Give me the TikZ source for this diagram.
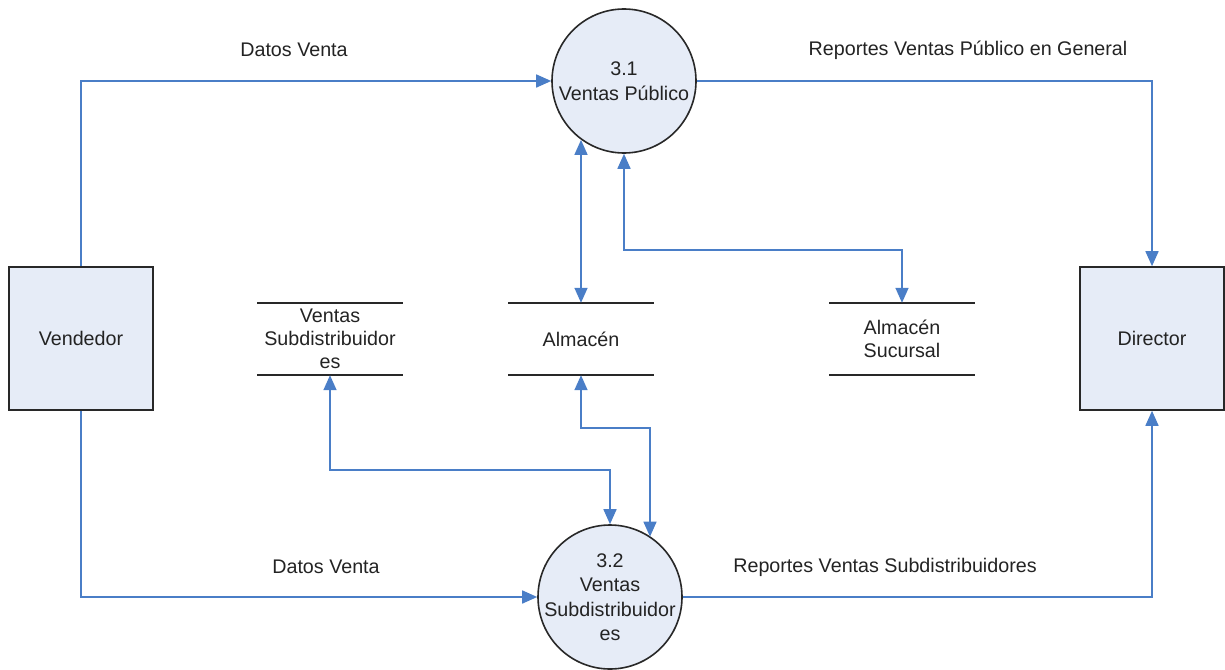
\documentclass[tikz,border=0pt]{standalone}
\usepackage{fontspec}
\setmainfont{Liberation Sans}
\usetikzlibrary{arrows.meta}
\definecolor{flowblue}{RGB}{74,126,199}
\definecolor{boxfill}{RGB}{230,236,247}
\definecolor{edge}{RGB}{40,40,40}
\definecolor{ink}{RGB}{35,35,35}
\begin{document}
\begin{tikzpicture}[x=1pt,y=-1pt,
  every node/.style={font=\fontsize{19.7}{24}\selectfont, text=ink},
  entity/.style={draw=edge, line width=1.6pt, fill=boxfill, minimum width=144pt, minimum height=143pt, inner sep=0pt},
  process/.style={circle, draw=edge, line width=1.6pt, fill=boxfill, minimum size=144pt, inner sep=0pt},
  proctext/.style={align=center, inner sep=0pt, font=\fontsize{19.7}{24.5}\selectfont},
  store/.style={minimum width=145pt, minimum height=72pt, inner sep=0pt, align=center, font=\fontsize{19.7}{23}\selectfont},
  storeline/.style={draw=edge, line width=1.6pt},
  flow/.style={draw=flowblue, line width=1.6pt, -{Triangle[length=15pt,width=13pt]}},
  flowboth/.style={draw=flowblue, line width=1.6pt, {Triangle[length=15pt,width=13pt]}-{Triangle[length=15pt,width=13pt]}},
  lbl/.style={inner sep=0pt}]
\useasboundingbox (0,0) rectangle (1225,669);

% external entities
\node[entity] (vend) at (81,338.5) {Vendedor};
\node[entity] (dir) at (1152,338.5) {Director};

% processes: the circle keeps its size, the text sits on top of it
\node[process] (p1) at (624,81) {};
\node[proctext] (p1t) at (p1) {3.1\\Ventas Público};
\node[process] (p2) at (610,597) {};
\node[proctext] (p2t) at (p2) {3.2\\Ventas\\Subdistribuidor\\es};

% data stores
\node[store] (vsub) at (330,339) {Ventas\\Subdistribuidor\\es};
\node[store] (alm) at (581,339) {Almacén};
\node[store] (suc) at (902,339) {Almacén\\Sucursal};
\foreach \s in {vsub,alm,suc}{
  \draw[storeline] (\s.north west) -- (\s.north east);
  \draw[storeline] (\s.south west) -- (\s.south east);
}

% bend points
\coordinate (j1) at (624,250);
\coordinate (j2) at (610,470);
\coordinate (j3) at (650,428);

% data flows
\draw[flow] (vend.north) |- (p1.west);
\draw[flow] (p1.east) -| (dir.north);
\draw[flow] (vend.south) |- (p2.west);
\draw[flow] (p2.east) -| (dir.south);
\draw[flowboth] (alm.north) -- (alm.north |- p1.234);
\draw[flowboth] (p1.south) -- (j1) -| (suc.north);
\draw[flowboth] (vsub.south) |- (j2) -- (p2.north);
\draw[flowboth] (alm.south) |- (j3) -- (j3 |- p2.56.3);

% flow labels
\node[lbl] (l1) at (294,50) {Datos Venta};
\node[lbl] (l2) at (968,50) {Reportes Ventas Público en General};
\node[lbl] (l3) at (326,567) {Datos Venta};
\node[lbl] (l4) at (885,567) {Reportes Ventas Subdistribuidores};
\end{tikzpicture}
\end{document}
